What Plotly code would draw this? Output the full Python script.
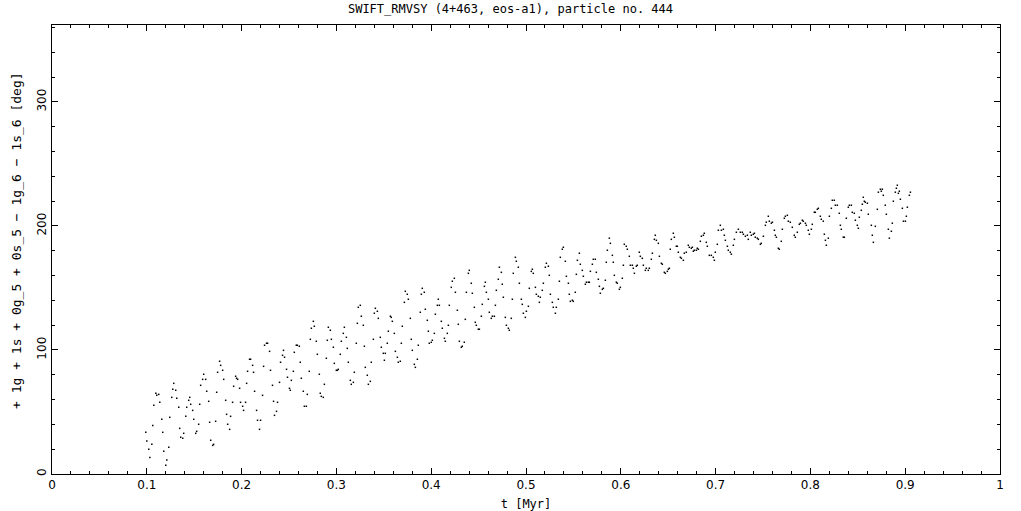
import plotly.graph_objects as go

t_myr = [
0.0989,0.1000,0.1021,0.1032,0.1053,0.1063,0.1074,0.1095,0.1105,0.1126,0.1137,0.1158,0.1168,0.1179,0.1200,0.1211,0.1232,0.1242,0.1263,0.1274,
0.1284,0.1305,0.1316,0.1337,0.1347,0.1358,0.1379,0.1389,0.1411,0.1421,0.1442,0.1453,0.1463,0.1484,0.1495,0.1516,0.1526,0.1547,0.1558,0.1568,
0.1589,0.1600,0.1621,0.1632,0.1653,0.1663,0.1674,0.1695,0.1705,0.1726,0.1737,0.1747,0.1768,0.1779,0.1800,0.1811,0.1832,0.1842,0.1853,0.1874,
0.1884,0.1905,0.1916,0.1937,0.1947,0.1958,0.1979,0.1989,0.2011,0.2021,0.2042,0.2053,0.2063,0.2084,0.2095,0.2116,0.2126,0.2137,0.2158,0.2168,
0.2189,0.2200,0.2221,0.2232,0.2242,0.2263,0.2274,0.2295,0.2305,0.2326,0.2337,0.2347,0.2368,0.2379,0.2400,0.2411,0.2432,0.2442,0.2453,0.2474,
0.2484,0.2505,
0.2514,0.2525,0.2546,0.2556,0.2577,0.2588,0.2609,0.2619,0.2630,0.2651,0.2662,0.2683,0.2693,0.2714,0.2725,0.2736,0.2757,0.2767,0.2788,0.2799,
0.2820,0.2830,0.2841,0.2862,0.2873,0.2894,0.2904,0.2915,0.2936,0.2947,0.2968,0.2978,0.2999,0.3010,0.3020,0.3041,0.3052,0.3073,0.3084,0.3105,
0.3115,0.3126,0.3147,0.3157,0.3179,0.3189,0.3210,0.3221,0.3231,0.3252,0.3263,0.3284,0.3295,0.3305,0.3326,0.3337,0.3358,0.3368,0.3390,0.3400,
0.3411,0.3432,0.3442,0.3463,0.3474,0.3495,0.3506,0.3516,0.3537,0.3548,0.3569,0.3579,0.3590,0.3611,0.3622,0.3643,0.3653,0.3674,0.3685,0.3695,
0.3717,0.3727,0.3748,0.3759,0.3780,0.3790,0.3801,0.3822,0.3833,0.3854,0.3864,0.3885,0.3896,0.3906,0.3927,0.3938,0.3959,0.3970,0.3980,0.4001,
0.4012,0.4033,0.4044,0.4065,0.4075,0.4086,0.4107,0.4117,0.4139,0.4149,0.4170,0.4181,0.4191,0.4212,0.4223,0.4244,0.4255,0.4276,0.4286,0.4297,
0.4318,0.4328,0.4349,0.4360,0.4371,0.4392,0.4402,0.4423,0.4434,0.4455,0.4465,0.4476,0.4497,0.4508,
0.4529,0.4539,0.4561,0.4571,0.4582,0.4603,0.4613,0.4634,0.4645,0.4666,0.4677,0.4687,0.4708,0.4719,0.4740,0.4750,0.4761,0.4782,0.4793,0.4814,
0.4824,0.4845,0.4856,0.4866,0.4888,0.4898,0.4919,0.4930,0.4951,0.4961,0.4972,0.4993,0.5004,0.5025,0.5035,0.5056,0.5067,0.5077,0.5099,0.5109,
0.5130,0.5141,0.5151,0.5172,0.5183,0.5204,0.5215,0.5236,0.5246,0.5257,0.5278,0.5288,0.5310,0.5320,0.5341,0.5352,0.5362,0.5383,0.5394,0.5415,
0.5426,0.5447,0.5457,0.5468,0.5489,0.5499,0.5520,0.5531,0.5542,0.5563,0.5573,0.5594,0.5605,0.5626,0.5637,0.5658,0.5668,0.5679,0.5700,0.5710,
0.5731,0.5742,0.5763,0.5774,0.5784,0.5805,0.5816,0.5837,0.5847,0.5858,0.5879,0.5890,0.5911,0.5921,0.5932,0.5953,0.5963,0.5985,0.5995,0.6016,
0.6027,0.6037,0.6058,0.6069,0.6090,0.6101,0.6122,0.6132,0.6143,0.6164,0.6174,0.6195,0.6206,0.6227,0.6238,0.6259,0.6269,0.6290,0.6301,0.6322,
0.6333,0.6354,0.6364,0.6375,0.6396,0.6407,0.6428,0.6438,0.6459,0.6470,0.6491,0.6502,0.6512,
0.6522,0.6533,0.6554,0.6565,0.6586,0.6596,0.6607,0.6628,0.6639,0.6660,0.6670,0.6691,0.6712,0.6723,0.6744,0.6755,0.6765,0.6776,0.6797,0.6807,
0.6818,0.6839,0.6850,0.6871,0.6881,0.6902,0.6913,0.6934,0.6955,0.6976,0.6987,0.6997,0.7018,0.7029,0.7050,0.7061,0.7082,0.7092,0.7103,0.7124,
0.7134,0.7155,0.7166,0.7187,0.7198,0.7219,0.7240,0.7261,0.7282,0.7293,0.7314,0.7335,0.7345,0.7366,0.7377,0.7398,0.7409,0.7419,0.7440,0.7451,
0.7472,0.7482,0.7504,0.7525,0.7535,0.7556,0.7567,0.7588,0.7599,0.7620,0.7630,0.7641,0.7662,0.7672,0.7693,0.7704,0.7725,0.7736,0.7757,0.7767,
0.7788,0.7809,0.7830,0.7841,0.7862,0.7883,0.7894,0.7915,0.7925,0.7947,0.7957,0.7978,0.7989,0.8010,0.8020,0.8041,0.8052,0.8073,0.8084,0.8105,
0.8115,0.8136,0.8147,0.8158,0.8168,0.8189,0.8200,0.8221,0.8231,0.8252,0.8263,0.8284,0.8305,0.8316,0.8326,0.8347,0.8358,0.8379,0.8400,0.8411,
0.8432,0.8442,0.8463,0.8474,0.8495,0.8506,0.8516,0.8537,0.8548,0.8558,0.8569,0.8579,0.8601,0.8611,0.8643,0.8653,0.8664,0.8685,0.8706,0.8717,
0.8738,0.8748,0.8759,0.8769,0.8790,0.8801,0.8822,0.8833,0.8854,0.8864,0.8875,0.8896,0.8907,0.8917,0.8928,0.8938,0.8949,0.8970,0.8981,0.9002,
0.9012,0.9023,0.9044,0.9055,
]

angle_deg = [
33.6,26.6,19.9,13.4,23.9,39.2,55.4,65.1,63.4,64.2,57.8,44.1,33.6,18.3,7.0,11.3,21.5,45.7,61.8,68.3,
73.1,67.5,61.0,53.8,36.8,29.6,28.8,32.8,46.5,53.8,59.4,61.8,56.2,51.3,44.1,32.8,34.4,40.1,56.2,71.5,
76.3,80.4,76.3,66.7,58.6,41.7,27.2,23.1,23.9,42.5,65.9,82.0,90.9,87.6,83.6,76.3,59.4,48.1,40.1,36.0,
46.5,57.8,70.7,78.8,77.2,76.3,69.1,57.8,54.6,51.3,57.8,73.1,82.8,92.5,92.5,87.6,82.0,66.7,51.3,43.3,
36.0,43.3,63.4,86.8,103.8,105.4,105.4,98.9,83.6,71.5,58.6,47.3,50.5,57.8,73.9,90.1,95.7,99.7,94.1,84.4,
78.0,69.1,
67.5,75.5,82.8,98.1,103.8,103.8,103.0,90.1,77.2,66.7,54.6,54.6,64.2,82.8,108.6,117.5,123.1,119.1,107.0,96.5,
80.4,65.1,62.6,61.8,72.3,93.3,107.8,118.3,115.9,108.6,102.2,89.2,83.6,83.6,84.4,96.5,107.0,113.4,118.3,110.2,
101.3,90.1,75.5,72.3,73.9,82.0,105.4,121.5,134.4,136.0,127.2,119.9,103.0,86.0,79.6,72.3,74.7,90.1,108.6,129.6,
133.6,131.2,125.5,110.2,102.2,97.3,91.7,97.3,105.4,115.1,127.2,126.3,123.1,113.4,98.9,94.1,90.1,90.9,105.4,119.1,
138.4,147.3,144.9,140.9,125.5,108.6,99.7,88.4,86.0,92.5,103.8,130.4,144.9,149.7,146.5,132.8,123.9,115.1,105.4,106.2,
107.8,113.4,128.8,136.0,140.9,136.0,123.1,117.5,109.4,107.0,113.4,119.9,136.0,150.5,155.4,157.8,146.5,132.0,120.7,107.0,
102.2,103.0,106.2,124.7,146.5,161.8,164.2,153.8,145.7,134.4,122.3,119.9,116.7,116.7,
127.2,136.8,151.3,154.6,146.5,140.9,130.4,125.5,127.2,127.2,136.0,148.1,157.0,166.7,162.6,153.0,142.5,126.3,119.9,117.5,
115.9,125.5,140.9,161.8,174.7,171.5,166.7,153.8,140.9,136.8,129.6,126.3,131.2,135.2,149.7,163.4,165.1,161.8,150.5,144.9,
143.3,138.4,142.5,148.1,153.8,166.7,169.9,167.5,160.2,144.9,138.4,134.4,129.6,134.4,140.9,155.4,174.7,181.2,182.8,171.5,
159.4,153.8,144.9,139.2,140.1,139.2,146.5,161.0,172.3,178.0,169.1,164.2,159.4,153.0,154.6,154.6,154.6,163.4,169.1,173.1,
173.1,162.6,157.0,151.3,145.7,148.9,149.7,156.2,170.7,180.4,190.1,186.0,176.3,170.7,160.2,154.6,153.8,148.9,150.5,157.8,
168.3,185.2,183.6,181.2,175.5,168.3,168.3,165.9,161.8,167.5,168.3,178.8,175.5,173.9,168.3,164.2,165.9,164.2,165.9,173.1,
178.0,189.2,192.5,188.4,186.0,175.5,169.9,169.1,162.6,161.8,163.4,165.1,165.9,
181.2,189.2,194.1,190.9,183.6,183.6,178.8,174.7,173.9,172.3,178.0,178.8,184.4,182.8,182.0,182.8,179.6,180.4,180.4,182.0,
181.2,187.6,191.7,192.5,194.1,186.8,183.6,176.3,176.3,174.7,172.3,178.8,185.2,196.5,200.5,196.5,197.3,192.5,188.4,183.6,
180.4,178.8,177.2,184.4,189.2,194.9,197.3,194.9,194.9,193.3,191.7,192.5,189.2,194.9,192.5,193.3,194.1,190.9,190.1,189.2,
185.2,186.0,191.7,200.5,203.0,207.8,203.8,202.2,203.0,196.5,192.5,190.9,182.0,181.2,187.6,197.3,206.2,207.8,208.6,203.8,
203.0,198.9,192.5,190.9,194.9,201.3,202.2,204.6,203.8,202.2,200.5,196.5,193.3,197.3,201.3,211.0,211.0,213.4,214.2,207.8,
205.4,203.8,193.3,188.4,184.4,190.1,207.8,214.2,220.7,220.7,216.7,216.7,210.2,200.5,197.3,190.9,190.9,206.2,215.1,216.7,
216.7,211.0,210.2,204.6,200.5,198.1,207.0,212.6,217.5,223.1,219.9,219.1,218.3,209.4,200.5,192.5,186.8,199.7,213.4,227.2,
229.6,228.0,229.6,224.7,216.7,209.4,197.3,190.1,195.7,202.2,219.9,227.2,230.4,232.8,226.3,228.0,221.5,214.2,203.8,203.8,
207.8,215.1,224.7,227.2,
]

x_ticks = [0, 0.1, 0.2, 0.3, 0.4, 0.5, 0.6, 0.7, 0.8, 0.9, 1]
x_tick_labels = ["0", "0.1", "0.2", "0.3", "0.4", "0.5", "0.6", "0.7", "0.8", "0.9", "1"]
y_ticks = [0, 100, 200, 300]
y_tick_labels = ["0", "100", "200", "300"]

title_text = "SWIFT_RMVSY (4+463, eos-a1), particle no. 444"
x_title = "t [Myr]"
y_title = "+ 1g + 1s + 0g_5 + 0s_5 − 1g_6 − 1s_6 [deg]"

FONT = "DejaVu Sans"
MONO = "DejaVu Sans Mono"

fig = go.Figure()
fig.add_trace(go.Scatter(
    x=t_myr, y=angle_deg, mode="markers",
    marker=dict(size=1.5, color="black", symbol="square", line=dict(width=0)),
    hoverinfo="x+y", showlegend=False,
))

axis_common = dict(
    showgrid=False, zeroline=False, showline=True, linecolor="black", linewidth=1,
    mirror="ticks", ticks="inside", tickcolor="black", tickwidth=1,
    tickfont=dict(family=FONT, size=12, color="black"),
    automargin=False,
)

fig.update_layout(
    width=1021, height=511,
    margin=dict(l=52, r=21, t=25, b=37),
    paper_bgcolor="white", plot_bgcolor="white",
    title=dict(text=title_text, x=0.5, xanchor="center", y=0.982, yanchor="middle",
               font=dict(family=MONO, size=12, color="black")),
    xaxis=dict(range=[0, 1], tickvals=x_ticks, ticktext=x_tick_labels, ticklen=6,
               minor=dict(dtick=0.02, ticks="inside", ticklen=3, tickcolor="black", showgrid=False),
               title=dict(text=x_title, font=dict(family=MONO, size=12, color="black"), standoff=9),
               **axis_common),
    yaxis=dict(range=[0, 362], tickvals=y_ticks, ticktext=y_tick_labels, ticklen=6, tickangle=-90,
               minor=dict(dtick=20, ticks="inside", ticklen=3, tickcolor="black", showgrid=False),
               **axis_common),
    annotations=[dict(
        text=y_title, textangle=-90, xref="paper", yref="paper",
        x=0, xshift=-35, xanchor="center", y=0.519, yanchor="middle",
        showarrow=False, font=dict(family=MONO, size=13, color="black"),
    )],
)

fig.write_html("out.html", config={"displayModeBar": False},
               post_script="document.body.style.margin='0px';")
